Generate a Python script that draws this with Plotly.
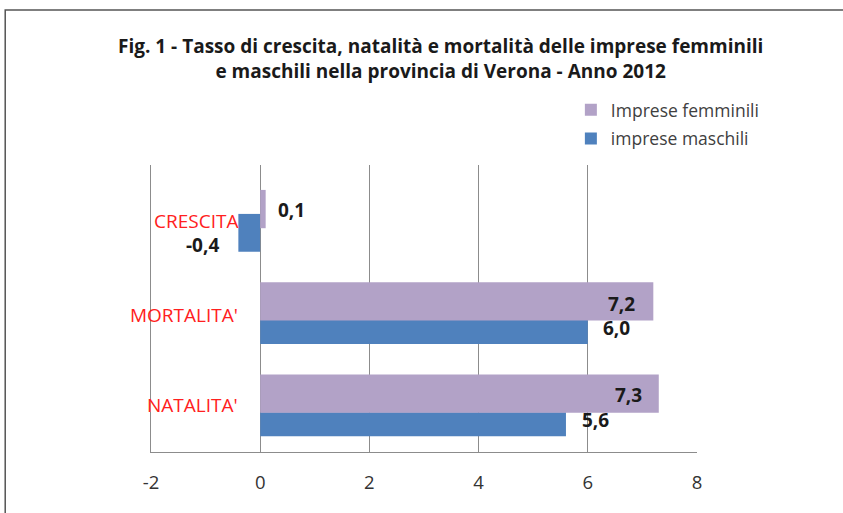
import plotly.graph_objects as go

# Data
categories = ["NATALITA'", "MORTALITA'", "CRESCITA"]  # bottom to top
femminili = [7.3, 7.2, 0.1]
maschili = [5.6, 6.0, -0.4]
x_ticks = [-2, 0, 2, 4, 6, 8]
x_tick_labels = ["-2", "0", "2", "4", "6", "8"]
title_lines = ["Fig. 1 - Tasso di crescita, natalità e mortalità delle imprese femminili",
               "e maschili nella provincia di Verona - Anno 2012"]
series_names = ["Imprese femminili", "imprese maschili"]

FEM_COLOR = "#B2A2C7"
MAS_COLOR = "#4F81BD"
FONT = "Open Sans"

def fmt(v):
    return f"{v:.1f}".replace(".", ",")

fig = go.Figure()
fig.add_trace(go.Bar(
    y=categories, x=maschili, orientation="h", name=series_names[1],
    marker=dict(color=MAS_COLOR, line=dict(width=0)),
    offset=-0.34, width=[0.26, 0.26, 0.41],
    legendrank=2, legendgroup="m", hoverinfo="x+name"))
fig.add_trace(go.Bar(
    y=categories, x=femminili, orientation="h", name=series_names[0],
    marker=dict(color=FEM_COLOR, line=dict(width=0)),
    offset=-0.085, width=0.415,
    legendrank=1, legendgroup="f", hoverinfo="x+name"))

# value labels (label placement tweaks per bar)
fem_place = [("right", -15, 10), ("right", -16, 9), ("left", 10, 10)]
mas_place = [("left", 14, -15), ("left", 13, -15), ("right", -17, -25)]
ann = []
for cat, v, (anc, xs, ys) in zip(categories, femminili, fem_place):
    ann.append(dict(x=v, y=cat, text="<b>" + fmt(v) + "</b>", showarrow=False, xanchor=anc,
                    xshift=xs, yshift=ys,
                    font=dict(family=FONT, size=19, color="#1a1a1a")))
for cat, v, (anc, xs, ys) in zip(categories, maschili, mas_place):
    ann.append(dict(x=v, y=cat, text="<b>" + fmt(v) + "</b>", showarrow=False, xanchor=anc,
                    xshift=xs, yshift=ys,
                    font=dict(family=FONT, size=19, color="#1a1a1a")))
# category labels inside plot (red)
for cat, ys in zip(categories, [0, -2, -1]):
    ann.append(dict(x=0, y=cat, text=cat, showarrow=False, xanchor="right",
                    xshift=-20, yshift=ys,
                    font=dict(family=FONT, size=19, color="#FF2020")))
# title
ann.append(dict(xref="paper", yref="paper", x=0.53, y=1.0, yshift=107,
                text="<b>" + title_lines[0] + "</b><br><b>" + title_lines[1] + "</b>",
                showarrow=False, xanchor="center", yanchor="middle",
                font=dict(family=FONT, size=19, color="#1a1a1a")))

fig.update_layout(
    width=843, height=513,
    margin=dict(l=151, r=146, t=165, b=61, pad=0),
    paper_bgcolor="white", plot_bgcolor="white",
    barmode="overlay",
    annotations=ann,
    showlegend=True,
    legend=dict(x=0.769, y=1.255, xanchor="left", yanchor="top",
                font=dict(family=FONT, size=17.5, color="#404040"),
                traceorder="grouped", tracegroupgap=3,
                bgcolor="rgba(0,0,0,0)", itemwidth=30),
    xaxis=dict(range=[-2, 8], tickvals=x_ticks, ticktext=x_tick_labels,
               showgrid=True, gridcolor="#8c8c8c", gridwidth=1,
               zeroline=True, zerolinecolor="#8c8c8c", zerolinewidth=1,
               showline=True, linecolor="#8c8c8c", linewidth=1, mirror=False,
               ticks="", ticklabelstandoff=14,
               tickfont=dict(family=FONT, size=18.5, color="#333333")),
    yaxis=dict(range=[-0.51, 2.6], showticklabels=False, showgrid=False,
               zeroline=False, showline=True, linecolor="#8c8c8c", linewidth=1,
               categoryorder="array", categoryarray=categories),
    shapes=[dict(type="rect", xref="paper", yref="paper",
                 x0=-0.267, x1=1.4, y0=-0.4, y1=1.54,
                 line=dict(color="#555555", width=1.5), layer="below")],
)

fig.write_html("out.html", config={"displayModeBar": False},
               post_script="document.body.style.margin='0';document.body.style.overflow='hidden';")
